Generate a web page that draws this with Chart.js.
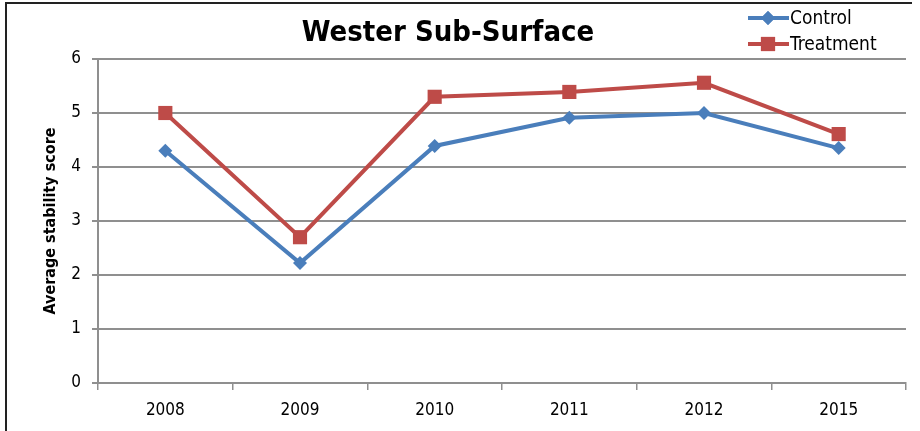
<!DOCTYPE html>
<html>
<head>
<meta charset="utf-8">
<script src="https://cdn.jsdelivr.net/npm/chart.js@4.4.1/dist/chart.umd.min.js"></script>
<style>
  html, body { margin: 0; padding: 0; background: #fff; }
  #wrap { position: relative; width: 920px; height: 431px; overflow: hidden; }
  #frame { position: absolute; left: 5px; top: 2px; width: 905px; height: 440px;
           border-left: 2px solid #222; border-top: 2px solid #222; pointer-events: none; }
</style>
</head>
<body>
<div id="wrap">
  <canvas id="chart"></canvas>
  <div id="frame"></div>
</div>
<script>
  // Valeurs
  const years = ['2008', '2009', '2010', '2011', '2012', '2015'];
  const controlScores = [4.3, 2.22, 4.39, 4.91, 5.0, 4.35];
  const treatmentScores = [5.0, 2.7, 5.3, 5.39, 5.56, 4.61];
  const yTicks = [0, 1, 2, 3, 4, 5, 6];

  const FONT = "'Liberation Sans Narrow', 'DejaVu Sans Condensed', 'Liberation Sans', sans-serif";
  const BLUE = '#4a7ebb';
  const RED = '#be4b48';
  const GRID = '#8f8f8f';

  // Titre + légende dessinés à la main, comme dans Excel
  const titleAndLegend = {
    id: 'titleAndLegend',
    afterDraw(chart) {
      const ctx = chart.ctx;
      ctx.save();
      ctx.fillStyle = '#000';
      ctx.font = "bold 29px " + FONT;
      ctx.textAlign = 'center';
      ctx.textBaseline = 'middle';
      ctx.fillText('Wester Sub-Surface', 448, 33);

      const rows = [
        { label: 'Control', color: BLUE, style: 'rectRot', y: 18 },
        { label: 'Treatment', color: RED, style: 'rect', y: 44 }
      ];
      rows.forEach(r => {
        ctx.strokeStyle = r.color;
        ctx.lineWidth = 4;
        ctx.beginPath();
        ctx.moveTo(748, r.y);
        ctx.lineTo(789, r.y);
        ctx.stroke();
        ctx.fillStyle = r.color;
        Chart.helpers.drawPoint(ctx, { pointStyle: r.style, radius: r.style === 'rect' ? 10 : 7, rotation: 0, borderWidth: 0 }, 768, r.y);
        ctx.fill();
        ctx.fillStyle = '#000';
        ctx.font = "19px " + FONT;
        ctx.textAlign = 'left';
        ctx.fillText(r.label, 790, r.y + 1);
      });
      ctx.restore();
    }
  };

  new Chart(document.getElementById('chart'), {
    type: 'line',
    data: {
      labels: years,
      datasets: [
        {
          label: 'Control',
          data: controlScores,
          borderColor: BLUE,
          backgroundColor: BLUE,
          borderWidth: 4,
          pointStyle: 'rectRot',
          pointRadius: 7,
          pointBorderWidth: 0,
          tension: 0
        },
        {
          label: 'Treatment',
          data: treatmentScores,
          borderColor: RED,
          backgroundColor: RED,
          borderWidth: 4,
          pointStyle: 'rect',
          pointRadius: 10,
          pointBorderWidth: 0,
          tension: 0
        }
      ]
    },
    options: {
      responsive: true,
      maintainAspectRatio: false,
      animation: false,
      layout: { padding: { top: 59, right: 14, left: 0, bottom: 0 } },
      plugins: { legend: { display: false }, title: { display: false }, tooltip: { enabled: false } },
      scales: {
        x: {
          offset: true,
          afterFit: s => { s.height = 48; },
          grid: { offset: true, drawOnChartArea: false, drawTicks: true, tickLength: 7, color: GRID, lineWidth: 1.5 },
          border: { color: GRID, width: 2 },
          ticks: { color: '#000', font: { family: FONT, size: 17 }, padding: 10 }
        },
        y: {
          min: 0,
          max: 6,
          afterFit: s => { s.width = 98; },
          afterBuildTicks: s => { s.ticks = yTicks.map(v => ({ value: v })); },
          grid: { color: GRID, lineWidth: 2, tickLength: 6 },
          border: { color: GRID, width: 2 },
          ticks: { color: '#000', font: { family: FONT, size: 17 }, padding: 11 },
          title: {
            display: true,
            text: 'Average stability score',
            color: '#000',
            font: { family: FONT, size: 16, weight: 'bold' },
            padding: { top: 41, bottom: 0 }
          }
        }
      }
    },
    plugins: [titleAndLegend]
  });
</script>
</body>
</html>
